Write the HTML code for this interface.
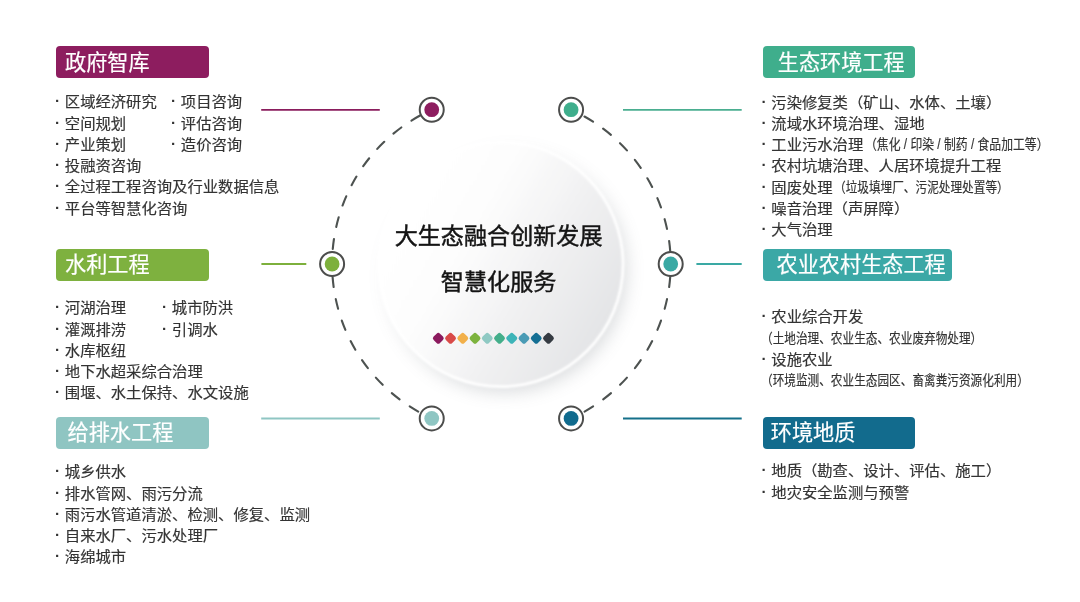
<!DOCTYPE html>
<html lang="zh-CN"><head><meta charset="utf-8"><title>大生态融合创新发展 智慧化服务</title>
<style>
html,body{margin:0;padding:0;background:#fff;}
body{width:1080px;height:602px;position:relative;overflow:hidden;font-family:"Liberation Sans","Noto Sans CJK SC",sans-serif;color:#333;}
svg{position:absolute;left:0;top:0;}
.h{position:absolute;height:32px;line-height:30.4px;border-radius:4px;color:#fff;font-size:21.15px;font-weight:400;-webkit-text-stroke:0.2px #fff;white-space:nowrap;box-sizing:border-box;}
.h span{display:inline-block;position:relative;top:1.7px;transform:scaleY(0.999);}
.r{position:absolute;font-size:15.34px;line-height:21.25px;height:21.25px;white-space:nowrap;font-weight:400;color:#333;-webkit-text-stroke:0.18px #333;transform:scaleY(0.945);transform-origin:0 50%;}
.b{display:inline-block;width:10.3px;text-align:left;position:relative;top:-0.8px;left:0.6px;font-weight:700;-webkit-text-stroke:0;}
.s{display:inline-block;font-size:14.8px;font-weight:400;transform:scaleX(0.787);transform-origin:0 50%;position:relative;top:-0.9px;}
.s1{margin-left:1.4px;transform:scaleX(0.80);}
.s2{margin-left:1.6px;}
.c{transform:scaleY(0.999);position:absolute;left:298.6px;width:400px;text-align:center;font-size:23.1px;font-weight:400;-webkit-text-stroke:0.45px #141414;color:#141414;white-space:nowrap;line-height:30px;height:30px;}
</style></head><body>

<svg width="1080" height="602" viewBox="0 0 1080 602">
<defs>
<linearGradient id="face" x1="0.1" y1="0.25" x2="0.95" y2="0.75"><stop offset="0" stop-color="#ffffff"/><stop offset="0.3" stop-color="#fdfdfd"/><stop offset="0.6" stop-color="#f2f2f3"/><stop offset="1" stop-color="#e3e4e6"/></linearGradient>
<linearGradient id="shg" x1="0.15" y1="0.15" x2="0.85" y2="0.85"><stop offset="0" stop-color="#7f858c" stop-opacity="0.05"/><stop offset="0.35" stop-color="#7f858c" stop-opacity="0.55"/><stop offset="0.7" stop-color="#7f858c" stop-opacity="1"/></linearGradient>
<filter id="sh1" x="-30%" y="-30%" width="160%" height="160%"><feGaussianBlur stdDeviation="9"/></filter>
<filter id="sh3" x="-30%" y="-30%" width="160%" height="160%"><feGaussianBlur stdDeviation="0.9"/></filter>
</defs>
<circle cx="504.7" cy="270.3" r="121.5" fill="url(#shg)" opacity="0.3" filter="url(#sh1)"/>
<circle cx="500.7" cy="264.3" r="123.8" fill="#ffffff" filter="url(#sh3)"/>
<circle cx="500.7" cy="264.3" r="121" fill="url(#face)" filter="url(#sh3)"/>
<path d="M332.10 264.00A169.3 169.3 0 0 1 431.73 109.70" fill="none" stroke="#4d5250" stroke-width="2.1" stroke-linecap="round" stroke-dasharray="9.9 12.35" stroke-dashoffset="-15.200000000000001"/>
<path d="M332.10 264.00A169.3 169.3 0 0 0 431.73 418.40" fill="none" stroke="#4d5250" stroke-width="2.1" stroke-linecap="round" stroke-dasharray="9.9 12.35" stroke-dashoffset="-13.200000000000001"/>
<path d="M670.70 264.00A169.3 169.3 0 0 0 571.07 109.70" fill="none" stroke="#4d5250" stroke-width="2.1" stroke-linecap="round" stroke-dasharray="9.9 12.35" stroke-dashoffset="-13.200000000000001"/>
<path d="M670.70 264.00A169.3 169.3 0 0 1 571.07 418.40" fill="none" stroke="#4d5250" stroke-width="2.1" stroke-linecap="round" stroke-dasharray="9.9 12.35" stroke-dashoffset="-13.200000000000001"/>
<line x1="261.2" y1="109.9" x2="379.8" y2="109.9" stroke="#8a1d5d" stroke-width="1.8"/>
<line x1="623" y1="109.9" x2="741.7" y2="109.9" stroke="#4aae90" stroke-width="1.8"/>
<line x1="261.4" y1="264" x2="306.3" y2="264" stroke="#7db03c" stroke-width="1.8"/>
<line x1="696.4" y1="264" x2="741.7" y2="264" stroke="#3aa9a4" stroke-width="1.8"/>
<line x1="261.2" y1="418.5" x2="379.8" y2="418.5" stroke="#8fc6c3" stroke-width="1.8"/>
<line x1="623" y1="418.5" x2="741.7" y2="418.5" stroke="#15708a" stroke-width="1.8"/>
<circle cx="431.73" cy="109.7" r="12" fill="#fff" stroke="#4c4d4c" stroke-width="2"/>
<circle cx="431.73" cy="109.7" r="7.4" fill="#8d1d5f"/>
<circle cx="571.07" cy="109.7" r="12" fill="#fff" stroke="#4c4d4c" stroke-width="2"/>
<circle cx="571.07" cy="109.7" r="7.4" fill="#3fae8c"/>
<circle cx="332.10" cy="264" r="12" fill="#fff" stroke="#4c4d4c" stroke-width="2"/>
<circle cx="332.10" cy="264" r="7.4" fill="#7db03c"/>
<circle cx="670.70" cy="264" r="12" fill="#fff" stroke="#4c4d4c" stroke-width="2"/>
<circle cx="670.70" cy="264" r="7.4" fill="#3aa9a4"/>
<circle cx="431.73" cy="418.4" r="12" fill="#fff" stroke="#4c4d4c" stroke-width="2"/>
<circle cx="431.73" cy="418.4" r="7.4" fill="#8fc6c3"/>
<circle cx="571.07" cy="418.4" r="12" fill="#fff" stroke="#4c4d4c" stroke-width="2"/>
<circle cx="571.07" cy="418.4" r="7.4" fill="#106b8e"/>
<rect x="433.80" y="333.80" width="9" height="9" rx="2.4" fill="#8b1a5e" transform="rotate(45 438.30 338.3)"/>
<rect x="446.04" y="333.80" width="9" height="9" rx="2.4" fill="#d94a48" transform="rotate(45 450.54 338.3)"/>
<rect x="458.28" y="333.80" width="9" height="9" rx="2.4" fill="#f2b04a" transform="rotate(45 462.78 338.3)"/>
<rect x="470.52" y="333.80" width="9" height="9" rx="2.4" fill="#7db33e" transform="rotate(45 475.02 338.3)"/>
<rect x="482.76" y="333.80" width="9" height="9" rx="2.4" fill="#8fc9c3" transform="rotate(45 487.26 338.3)"/>
<rect x="495.00" y="333.80" width="9" height="9" rx="2.4" fill="#43ae8a" transform="rotate(45 499.50 338.3)"/>
<rect x="507.24" y="333.80" width="9" height="9" rx="2.4" fill="#3db4b8" transform="rotate(45 511.74 338.3)"/>
<rect x="519.48" y="333.80" width="9" height="9" rx="2.4" fill="#4a9bb5" transform="rotate(45 523.98 338.3)"/>
<rect x="531.72" y="333.80" width="9" height="9" rx="2.4" fill="#146f94" transform="rotate(45 536.22 338.3)"/>
<rect x="543.96" y="333.80" width="9" height="9" rx="2.4" fill="#353b42" transform="rotate(45 548.46 338.3)"/>
</svg>
<div class="h" style="left:56.4px;top:46.3px;width:152.8px;background:#8d1d5f;padding-left:8.7px"><span>政府智库</span></div>
<div class="h" style="left:56.4px;top:248.8px;width:152.8px;background:#7eb13f;padding-left:8.7px"><span>水利工程</span></div>
<div class="h" style="left:56.4px;top:416.7px;width:152.8px;background:#8fc5c2;padding-left:11.2px"><span>给排水工程</span></div>
<div class="h" style="left:763.2px;top:46.3px;width:151.5px;background:#3fae8c;padding-left:14.6px"><span>生态环境工程</span></div>
<div class="h" style="left:763.2px;top:248.7px;width:188.5px;background:#3ba8a6;padding-left:13.4px"><span>农业农村生态工程</span></div>
<div class="h" style="left:763.2px;top:416.7px;width:151.5px;background:#126b8d;padding-left:7.6px"><span>环境地质</span></div>
<div class="r" style="left:54.5px;top:91.48px"><span class="b">·</span>区域经济研究</div>
<div class="r" style="left:54.5px;top:112.73px"><span class="b">·</span>空间规划</div>
<div class="r" style="left:54.5px;top:133.97px"><span class="b">·</span>产业策划</div>
<div class="r" style="left:54.5px;top:155.22px"><span class="b">·</span>投融资咨询</div>
<div class="r" style="left:54.5px;top:176.47px"><span class="b">·</span>全过程工程咨询及行业数据信息</div>
<div class="r" style="left:54.5px;top:197.72px"><span class="b">·</span>平台等智慧化咨询</div>
<div class="r" style="left:170.5px;top:91.48px"><span class="b">·</span>项目咨询</div>
<div class="r" style="left:170.5px;top:112.73px"><span class="b">·</span>评估咨询</div>
<div class="r" style="left:170.5px;top:133.97px"><span class="b">·</span>造价咨询</div>
<div class="r" style="left:54.5px;top:297.27px"><span class="b">·</span>河湖治理</div>
<div class="r" style="left:54.5px;top:318.52px"><span class="b">·</span>灌溉排涝</div>
<div class="r" style="left:54.5px;top:339.77px"><span class="b">·</span>水库枢纽</div>
<div class="r" style="left:54.5px;top:361.02px"><span class="b">·</span>地下水超采综合治理</div>
<div class="r" style="left:54.5px;top:382.27px"><span class="b">·</span>围堰、水土保持、水文设施</div>
<div class="r" style="left:161.5px;top:297.27px"><span class="b">·</span>城市防洪</div>
<div class="r" style="left:161.5px;top:318.52px"><span class="b">·</span>引调水</div>
<div class="r" style="left:54.5px;top:461.27px"><span class="b">·</span>城乡供水</div>
<div class="r" style="left:54.5px;top:482.52px"><span class="b">·</span>排水管网、雨污分流</div>
<div class="r" style="left:54.5px;top:503.77px"><span class="b">·</span>雨污水管道清淤、检测、修复、监测</div>
<div class="r" style="left:54.5px;top:525.02px"><span class="b">·</span>自来水厂、污水处理厂</div>
<div class="r" style="left:54.5px;top:546.27px"><span class="b">·</span>海绵城市</div>
<div class="r" style="left:761px;top:91.58px"><span class="b">·</span>污染修复类（矿山、水体、土壤）</div>
<div class="r" style="left:761px;top:112.83px"><span class="b">·</span>流域水环境治理、湿地</div>
<div class="r" style="left:761px;top:134.08px"><span class="b">·</span>工业污水治理<span class="s s1">（焦化 / 印染 / 制药 / 食品加工等）</span></div>
<div class="r" style="left:761px;top:155.33px"><span class="b">·</span>农村坑塘治理、人居环境提升工程</div>
<div class="r" style="left:761px;top:176.58px"><span class="b">·</span>固废处理<span class="s s2">（垃圾填埋厂、污泥处理处置等）</span></div>
<div class="r" style="left:761px;top:197.83px"><span class="b">·</span>噪音治理（声屏障）</div>
<div class="r" style="left:761px;top:219.08px"><span class="b">·</span>大气治理</div>
<div class="r" style="left:761px;top:306.27px"><span class="b">·</span>农业综合开发</div>
<div class="r" style="left:761px;top:327.52px"><span class="s">（土地治理、农业生态、农业废弃物处理）</span></div>
<div class="r" style="left:761px;top:348.77px"><span class="b">·</span>设施农业</div>
<div class="r" style="left:761px;top:370.02px"><span class="s">（环境监测、农业生态园区、畜禽粪污资源化利用）</span></div>
<div class="r" style="left:761px;top:460.47px"><span class="b">·</span>地质（勘查、设计、评估、施工）</div>
<div class="r" style="left:761px;top:481.72px"><span class="b">·</span>地灾安全监测与预警</div>
<div class="c" style="top:220.8px">大生态融合创新发展</div>
<div class="c" style="top:267px">智慧化服务</div>
</body></html>
